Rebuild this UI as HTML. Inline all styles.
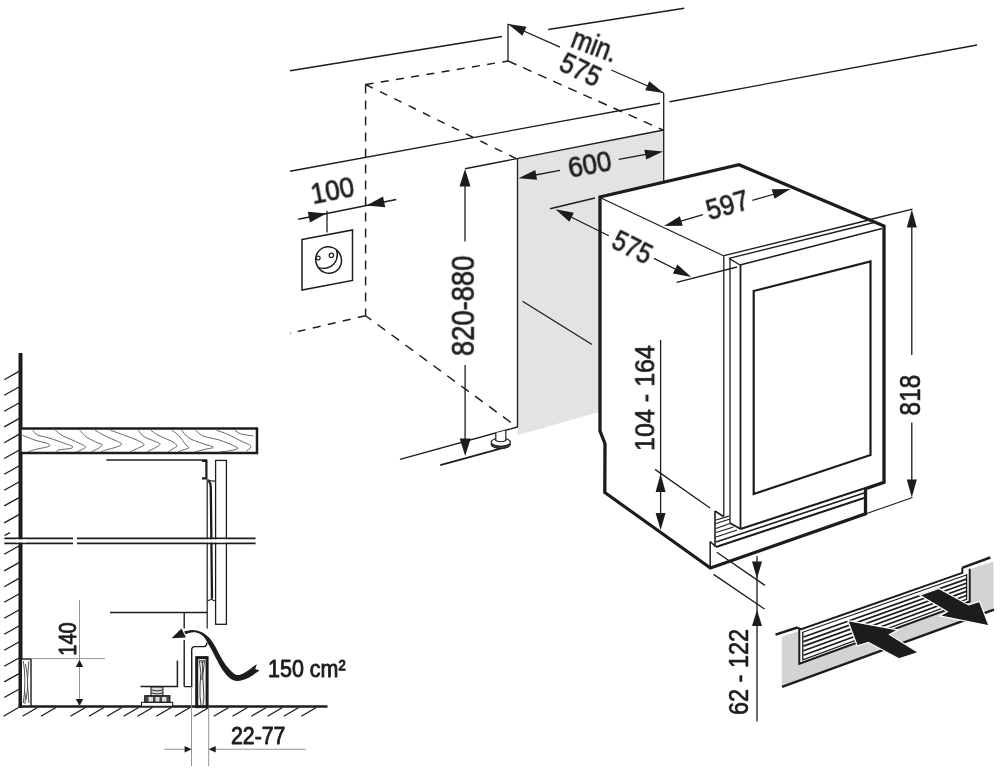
<!DOCTYPE html>
<html lang="en"><head><meta charset="utf-8"><title>Installation dimensions</title>
<style>
html,body{margin:0;padding:0;background:#fff}
body{width:1000px;height:780px;overflow:hidden}
svg{display:block;font-family:"Liberation Sans",sans-serif}
svg text{will-change:opacity;opacity:.999}
</style></head><body>
<svg width="1000" height="780" viewBox="0 0 1000 780">
<rect width="1000" height="780" fill="#fff"/>
<polygon points="517.5,158.5 663.7,130 663.7,181 600,197 600,411.8 517.5,435.3" fill="#e3e3e3" stroke="none" stroke-width="0" stroke-linejoin="miter"/>
<line x1="290" y1="70.75" x2="502" y2="36.5" stroke="#1c1c1c" stroke-width="1.3" stroke-linecap="butt"/>
<line x1="548.25" y1="29.5" x2="684.25" y2="8.25" stroke="#1c1c1c" stroke-width="1.3" stroke-linecap="butt"/>
<line x1="290" y1="171.25" x2="660" y2="103.25" stroke="#1c1c1c" stroke-width="1.3" stroke-linecap="butt"/>
<line x1="669.5" y1="101.75" x2="977" y2="45" stroke="#1c1c1c" stroke-width="1.3" stroke-linecap="butt"/>
<line x1="508" y1="24" x2="508" y2="61" stroke="#1c1c1c" stroke-width="1.3" stroke-linecap="butt"/>
<line x1="663.7" y1="93" x2="663.7" y2="181" stroke="#1c1c1c" stroke-width="1.3" stroke-linecap="butt"/>
<line x1="365.6" y1="84.5" x2="508" y2="61" stroke="#1c1c1c" stroke-width="1.45" stroke-linecap="butt" stroke-dasharray="8 7.4"/>
<line x1="365.6" y1="84.5" x2="517" y2="159" stroke="#1c1c1c" stroke-width="1.45" stroke-linecap="butt" stroke-dasharray="8 8"/>
<line x1="365.6" y1="84.5" x2="365.6" y2="315.75" stroke="#1c1c1c" stroke-width="1.45" stroke-linecap="butt" stroke-dasharray="9 7"/>
<line x1="508" y1="61" x2="663" y2="130" stroke="#1c1c1c" stroke-width="1.45" stroke-linecap="butt" stroke-dasharray="9.2 7.3"/>
<line x1="365.6" y1="315.75" x2="290" y2="333.25" stroke="#1c1c1c" stroke-width="1.45" stroke-linecap="butt" stroke-dasharray="8 7.4"/>
<line x1="365.6" y1="315.75" x2="516.5" y2="426.6" stroke="#1c1c1c" stroke-width="1.45" stroke-dasharray="9.5 7.8" stroke-dashoffset="2.5"/>
<line x1="465" y1="168.75" x2="663.7" y2="130" stroke="#1c1c1c" stroke-width="1.3" stroke-linecap="butt"/>
<line x1="517.5" y1="158.5" x2="517.5" y2="427.5" stroke="#1c1c1c" stroke-width="1.3" stroke-linecap="butt"/>
<line x1="400" y1="459.4" x2="517.3" y2="427" stroke="#1c1c1c" stroke-width="1.3" stroke-linecap="butt"/>
<line x1="440.3" y1="465.1" x2="505.9" y2="447.2" stroke="#1c1c1c" stroke-width="1.8" stroke-linecap="butt"/>
<line x1="522.5" y1="301.25" x2="592" y2="344.5" stroke="#1c1c1c" stroke-width="1.3" stroke-linecap="butt"/>
<ellipse cx="500.8" cy="444.3" rx="9.6" ry="4.1" fill="#555" stroke="#1c1c1c" stroke-width="1.2"/>
<ellipse cx="500.8" cy="442.2" rx="9.6" ry="4.1" fill="#fff" stroke="#1c1c1c" stroke-width="1.2"/>
<path d="M 495.8,433 L 495.8,440.5 Q 500.8,443 505.8,440.5 L 505.8,430.5" fill="#fff" stroke="#1c1c1c" stroke-width="1.2"/>
<line x1="465" y1="180" x2="465" y2="241.5" stroke="#1c1c1c" stroke-width="1.3" stroke-linecap="butt"/>
<line x1="465.1" y1="365" x2="465.1" y2="445" stroke="#1c1c1c" stroke-width="1.3" stroke-linecap="butt"/>
<polygon points="465.00,169.00 470.50,186.50 459.50,186.50" fill="#1c1c1c"/>
<polygon points="465.20,456.00 459.70,438.50 470.70,438.50" fill="#1c1c1c"/>
<text x="0" y="0" transform="translate(473.8,305.8) rotate(-90)" font-size="30.6" font-weight="400" text-anchor="middle" fill="#1c1c1c" stroke="#1c1c1c" stroke-width="0.7" stroke-linejoin="round" textLength="100.5" lengthAdjust="spacingAndGlyphs">820-880</text>
<line x1="298.25" y1="219.25" x2="396.25" y2="199.5" stroke="#1c1c1c" stroke-width="1.3" stroke-linecap="butt"/>
<polygon points="326.50,213.60 309.93,222.52 307.77,211.74" fill="#1c1c1c"/>
<polygon points="366.50,205.50 383.07,196.58 385.23,207.36" fill="#1c1c1c"/>
<line x1="327" y1="211" x2="327" y2="232.5" stroke="#1c1c1c" stroke-width="1.3" stroke-linecap="butt"/>
<text x="0" y="0" transform="translate(334.3,200) rotate(-11)" font-size="29" font-weight="400" text-anchor="middle" fill="#1c1c1c" stroke="#1c1c1c" stroke-width="0.7" stroke-linejoin="round" textLength="43.5" lengthAdjust="spacingAndGlyphs">100</text>
<polygon points="302,239.5 352.5,230 352.5,280.5 302,290" fill="none" stroke="#1c1c1c" stroke-width="1.5" stroke-linejoin="miter"/>
<ellipse cx="328.6" cy="260" rx="12.8" ry="13.4" fill="none" stroke="#1c1c1c" stroke-width="1.5" transform="rotate(-25 328.6 260)"/>
<path d="M 336.2,249.3 C 339,256 336.5,263.5 330,266.8 C 325.5,269 321.5,268.5 318.6,267.6" fill="none" stroke="#1c1c1c" stroke-width="1.4"/>
<circle cx="318.2" cy="258" r="1.9" fill="#fff" stroke="#1c1c1c" stroke-width="1.2"/>
<circle cx="331.4" cy="255.3" r="2.2" fill="#fff" stroke="#1c1c1c" stroke-width="1.2"/>
<line x1="508" y1="24" x2="560" y2="47.2" stroke="#1c1c1c" stroke-width="1.3" stroke-linecap="butt"/>
<line x1="611.25" y1="70" x2="663.7" y2="93" stroke="#1c1c1c" stroke-width="1.3" stroke-linecap="butt"/>
<polygon points="508.00,24.00 526.48,26.72 522.43,35.86" fill="#1c1c1c"/>
<polygon points="663.70,93.00 645.22,90.28 649.27,81.14" fill="#1c1c1c"/>
<text x="0" y="0" transform="translate(591.2,54.6) rotate(20.5)" font-size="29" font-weight="400" text-anchor="middle" fill="#1c1c1c" stroke="#1c1c1c" stroke-width="0.7" stroke-linejoin="round" textLength="47" lengthAdjust="spacingAndGlyphs">min.</text>
<text x="0" y="0" transform="translate(576.4,78.6) rotate(25.5)" font-size="30" font-weight="400" text-anchor="middle" fill="#1c1c1c" stroke="#1c1c1c" stroke-width="0.7" stroke-linejoin="round" textLength="42" lengthAdjust="spacingAndGlyphs">575</text>
<line x1="530" y1="176" x2="560" y2="170.4" stroke="#1c1c1c" stroke-width="1.3" stroke-linecap="butt"/>
<line x1="618.75" y1="159.4" x2="650" y2="153.6" stroke="#1c1c1c" stroke-width="1.3" stroke-linecap="butt"/>
<polygon points="518.50,178.20 535.29,170.01 537.11,179.84" fill="#1c1c1c"/>
<polygon points="663.00,151.40 646.21,159.59 644.39,149.76" fill="#1c1c1c"/>
<text x="0" y="0" transform="translate(591.5,174) rotate(-10.5)" font-size="29" font-weight="400" text-anchor="middle" fill="#1c1c1c" stroke="#1c1c1c" stroke-width="0.7" stroke-linejoin="round" textLength="43.5" lengthAdjust="spacingAndGlyphs">600</text>
<polyline points="600,432 600,197 739,164.7 884,226 884,482.3 865.5,488.75 865.5,513.75 710.4,568 604.8,492.5 605,443.75 600,431" fill="none" stroke="#1c1c1c" stroke-width="3.3" stroke-linejoin="miter"/>
<line x1="601" y1="198" x2="724" y2="256" stroke="#1c1c1c" stroke-width="1.3" stroke-linecap="butt"/>
<line x1="724" y1="255.6" x2="869" y2="220" stroke="#1c1c1c" stroke-width="1.3" stroke-linecap="butt"/>
<line x1="729" y1="258.4" x2="874" y2="222.5" stroke="#1c1c1c" stroke-width="1.3" stroke-linecap="butt"/>
<line x1="740" y1="265" x2="882" y2="228.5" stroke="#1c1c1c" stroke-width="1.3" stroke-linecap="butt"/>
<line x1="729" y1="258.4" x2="740" y2="265" stroke="#1c1c1c" stroke-width="1.3" stroke-linecap="butt"/>
<line x1="723.8" y1="256" x2="723.8" y2="516.5" stroke="#1c1c1c" stroke-width="1.3" stroke-linecap="butt"/>
<line x1="730" y1="258.4" x2="730" y2="523" stroke="#1c1c1c" stroke-width="1.3" stroke-linecap="butt"/>
<line x1="740.5" y1="265" x2="740.5" y2="529" stroke="#1c1c1c" stroke-width="1.8" stroke-linecap="butt"/>
<polygon points="753.7,291 870.5,261.5 870.5,455 753.7,494" fill="none" stroke="#1c1c1c" stroke-width="2.2" stroke-linejoin="miter"/>
<line x1="740.5" y1="529" x2="864" y2="488.5" stroke="#1c1c1c" stroke-width="2.0" stroke-linecap="butt"/>
<line x1="730" y1="523" x2="740.5" y2="529" stroke="#1c1c1c" stroke-width="2.0" stroke-linecap="butt"/>
<line x1="716" y1="542" x2="864" y2="493" stroke="#1c1c1c" stroke-width="1.4" stroke-linecap="butt"/>
<line x1="716" y1="547" x2="864" y2="498" stroke="#1c1c1c" stroke-width="1.9" stroke-linecap="butt"/>
<line x1="710.2" y1="541.5" x2="710.2" y2="568" stroke="#1c1c1c" stroke-width="1.5" stroke-linecap="butt"/>
<line x1="710.2" y1="541.5" x2="715" y2="546" stroke="#1c1c1c" stroke-width="1.5" stroke-linecap="butt"/>
<line x1="715" y1="511" x2="715" y2="547" stroke="#1c1c1c" stroke-width="1.6" stroke-linecap="butt"/>
<line x1="715" y1="511" x2="723.5" y2="516.5" stroke="#1c1c1c" stroke-width="1.5" stroke-linecap="butt"/>
<line x1="716" y1="520" x2="729" y2="516.2" stroke="#1c1c1c" stroke-width="1.2" stroke-linecap="butt"/>
<line x1="716" y1="523.5" x2="730" y2="519" stroke="#1c1c1c" stroke-width="1.2" stroke-linecap="butt"/>
<line x1="716" y1="528.5" x2="730" y2="523.5" stroke="#1c1c1c" stroke-width="1.2" stroke-linecap="butt"/>
<line x1="716" y1="532.5" x2="733.5" y2="527" stroke="#1c1c1c" stroke-width="1.2" stroke-linecap="butt"/>
<line x1="716" y1="537" x2="737" y2="530" stroke="#1c1c1c" stroke-width="1.2" stroke-linecap="butt"/>
<line x1="675" y1="222.8" x2="703" y2="214.6" stroke="#1c1c1c" stroke-width="1.3" stroke-linecap="butt"/>
<line x1="752.4" y1="200.4" x2="778" y2="193" stroke="#1c1c1c" stroke-width="1.3" stroke-linecap="butt"/>
<polygon points="664.00,226.00 679.87,216.14 682.68,225.74" fill="#1c1c1c"/>
<polygon points="790.40,189.00 774.53,198.86 771.72,189.26" fill="#1c1c1c"/>
<text x="0" y="0" transform="translate(730,214.5) rotate(-16)" font-size="29" font-weight="400" text-anchor="middle" fill="#1c1c1c" stroke="#1c1c1c" stroke-width="0.7" stroke-linejoin="round" textLength="43" lengthAdjust="spacingAndGlyphs">597</text>
<line x1="550" y1="208.75" x2="595" y2="198" stroke="#1c1c1c" stroke-width="1.3" stroke-linecap="butt"/>
<line x1="565" y1="214" x2="608.75" y2="235.75" stroke="#1c1c1c" stroke-width="1.3" stroke-linecap="butt"/>
<line x1="654" y1="258.4" x2="681" y2="272" stroke="#1c1c1c" stroke-width="1.3" stroke-linecap="butt"/>
<polygon points="555.50,209.25 573.84,212.81 569.37,221.76" fill="#1c1c1c"/>
<polygon points="691.25,277.00 672.91,273.44 677.38,264.49" fill="#1c1c1c"/>
<text x="0" y="0" transform="translate(628,256) rotate(26.5)" font-size="29" font-weight="400" text-anchor="middle" fill="#1c1c1c" stroke="#1c1c1c" stroke-width="0.7" stroke-linejoin="round" textLength="40.5" lengthAdjust="spacingAndGlyphs">575</text>
<line x1="676.6" y1="282.4" x2="737" y2="267" stroke="#1c1c1c" stroke-width="1.3" stroke-linecap="butt"/>
<line x1="870" y1="219.5" x2="912.5" y2="209.2" stroke="#1c1c1c" stroke-width="1.3" stroke-linecap="butt"/>
<line x1="866" y1="513.75" x2="912.5" y2="497.5" stroke="#1c1c1c" stroke-width="1.3" stroke-linecap="butt"/>
<line x1="911.8" y1="220" x2="911.8" y2="355" stroke="#1c1c1c" stroke-width="1.3" stroke-linecap="butt"/>
<line x1="911.8" y1="422.5" x2="911.8" y2="487" stroke="#1c1c1c" stroke-width="1.3" stroke-linecap="butt"/>
<polygon points="911.80,209.50 916.80,227.50 906.80,227.50" fill="#1c1c1c"/>
<polygon points="911.80,497.50 906.80,479.50 916.80,479.50" fill="#1c1c1c"/>
<text x="0" y="0" transform="translate(920,395.1) rotate(-90)" font-size="30.2" font-weight="400" text-anchor="middle" fill="#1c1c1c" stroke="#1c1c1c" stroke-width="0.7" stroke-linejoin="round" textLength="40.8" lengthAdjust="spacingAndGlyphs">818</text>
<line x1="660.6" y1="340" x2="660.6" y2="520" stroke="#1c1c1c" stroke-width="1.3" stroke-linecap="butt"/>
<polygon points="660.60,474.00 665.60,492.00 655.60,492.00" fill="#1c1c1c"/>
<polygon points="660.60,530.00 655.60,513.00 665.60,513.00" fill="#1c1c1c"/>
<line x1="655" y1="469.4" x2="710" y2="508" stroke="#1c1c1c" stroke-width="1.3" stroke-linecap="butt"/>
<text x="0" y="0" transform="translate(654.2,398) rotate(-90)" font-size="27.5" font-weight="400" text-anchor="middle" fill="#1c1c1c" stroke="#1c1c1c" stroke-width="0.7" stroke-linejoin="round" textLength="106" lengthAdjust="spacingAndGlyphs">104 - 164</text>
<line x1="716.8" y1="552.2" x2="765" y2="585.4" stroke="#1c1c1c" stroke-width="1.3" stroke-linecap="butt"/>
<line x1="713.6" y1="574.4" x2="764.5" y2="609" stroke="#1c1c1c" stroke-width="1.3" stroke-linecap="butt"/>
<line x1="757" y1="556" x2="757" y2="721.6" stroke="#1c1c1c" stroke-width="1.3" stroke-linecap="butt"/>
<polygon points="757.00,578.50 752.00,561.50 762.00,561.50" fill="#1c1c1c"/>
<polygon points="757.00,610.00 762.00,626.00 752.00,626.00" fill="#1c1c1c"/>
<text x="0" y="0" transform="translate(748,672) rotate(-90)" font-size="27" font-weight="400" text-anchor="middle" fill="#1c1c1c" stroke="#1c1c1c" stroke-width="0.7" stroke-linejoin="round" textLength="86" lengthAdjust="spacingAndGlyphs">62 - 122</text>
<polygon points="781.7,636.8 799.3,631 799.3,663.7 969.7,601.5 969.7,569.3 993.5,561.5 993.5,609.5 781.7,686.6" fill="#d3d3d3" stroke="none" stroke-width="0" stroke-linejoin="miter"/>
<line x1="775.5" y1="634.6" x2="797.5" y2="627.5" stroke="#1c1c1c" stroke-width="2.4" stroke-linecap="butt"/>
<line x1="962" y1="567.8" x2="990.3" y2="557.5" stroke="#1c1c1c" stroke-width="2.4" stroke-linecap="butt"/>
<line x1="782" y1="686.8" x2="994" y2="609.6" stroke="#1c1c1c" stroke-width="2.4" stroke-linecap="butt"/>
<line x1="803.5" y1="637.05" x2="967" y2="578.88" stroke="#1c1c1c" stroke-width="1.7" stroke-linecap="butt"/>
<line x1="803.5" y1="641.6" x2="967" y2="582.9599999999999" stroke="#1c1c1c" stroke-width="1.7" stroke-linecap="butt"/>
<line x1="803.5" y1="646.15" x2="967" y2="587.04" stroke="#1c1c1c" stroke-width="1.7" stroke-linecap="butt"/>
<line x1="803.5" y1="650.7" x2="967" y2="591.12" stroke="#1c1c1c" stroke-width="1.7" stroke-linecap="butt"/>
<line x1="803.5" y1="655.25" x2="967" y2="595.1999999999999" stroke="#1c1c1c" stroke-width="1.7" stroke-linecap="butt"/>
<polyline points="797,627.8 801.2,629.3 962.3,572.9 962.3,568" fill="none" stroke="#1c1c1c" stroke-width="2.0" stroke-linejoin="miter"/>
<line x1="802" y1="632.6" x2="967" y2="574.8" stroke="#1c1c1c" stroke-width="1.1" stroke-linecap="butt"/>
<polyline points="799.3,629 799.3,663.7 969.7,601.5 969.7,568.8" fill="none" stroke="#1c1c1c" stroke-width="2.0" stroke-linejoin="miter"/>
<polyline points="802.8,632 802.8,659.8 966.6,599.3 966.6,574" fill="none" stroke="#1c1c1c" stroke-width="1.3" stroke-linejoin="miter"/>
<polygon points="847.9,620.7 898,629.8 889.5,634.6 918.4,652.5 898.9,658.7 868.3,642.3 857.2,645.7" fill="#1c1c1c" stroke="#fff" stroke-width="1.2"/>
<polygon points="989,625.8 979.6,601.5 968.6,604.9 938.8,588.4 919.8,595.2 947.3,611.7 939.7,615.9" fill="#1c1c1c" stroke="#fff" stroke-width="1.2"/>
<line x1="4.2" y1="379.7" x2="19" y2="371.4" stroke="#1c1c1c" stroke-width="1.3" stroke-linecap="butt"/>
<line x1="4.2" y1="395.3" x2="19" y2="387" stroke="#1c1c1c" stroke-width="1.3" stroke-linecap="butt"/>
<line x1="4.2" y1="411.3" x2="19" y2="403" stroke="#1c1c1c" stroke-width="1.3" stroke-linecap="butt"/>
<line x1="4.2" y1="426.90000000000003" x2="19" y2="418.6" stroke="#1c1c1c" stroke-width="1.3" stroke-linecap="butt"/>
<line x1="4.2" y1="442.7" x2="19" y2="434.4" stroke="#1c1c1c" stroke-width="1.3" stroke-linecap="butt"/>
<line x1="4.2" y1="458.5" x2="19" y2="450.2" stroke="#1c1c1c" stroke-width="1.3" stroke-linecap="butt"/>
<line x1="4.2" y1="474.3" x2="19" y2="466" stroke="#1c1c1c" stroke-width="1.3" stroke-linecap="butt"/>
<line x1="4.2" y1="490.3" x2="19" y2="482" stroke="#1c1c1c" stroke-width="1.3" stroke-linecap="butt"/>
<line x1="4.2" y1="505.90000000000003" x2="19" y2="497.6" stroke="#1c1c1c" stroke-width="1.3" stroke-linecap="butt"/>
<line x1="4.2" y1="522.9" x2="19" y2="514.6" stroke="#1c1c1c" stroke-width="1.3" stroke-linecap="butt"/>
<line x1="4.2" y1="554.3" x2="19" y2="546" stroke="#1c1c1c" stroke-width="1.3" stroke-linecap="butt"/>
<line x1="4.2" y1="570.9" x2="19" y2="562.6" stroke="#1c1c1c" stroke-width="1.3" stroke-linecap="butt"/>
<line x1="4.2" y1="586.6999999999999" x2="19" y2="578.4" stroke="#1c1c1c" stroke-width="1.3" stroke-linecap="butt"/>
<line x1="4.2" y1="602.3" x2="19" y2="594" stroke="#1c1c1c" stroke-width="1.3" stroke-linecap="butt"/>
<line x1="4.2" y1="618.3" x2="19" y2="610" stroke="#1c1c1c" stroke-width="1.3" stroke-linecap="butt"/>
<line x1="4.2" y1="634.3" x2="19" y2="626" stroke="#1c1c1c" stroke-width="1.3" stroke-linecap="butt"/>
<line x1="4.2" y1="650.3" x2="19" y2="642" stroke="#1c1c1c" stroke-width="1.3" stroke-linecap="butt"/>
<line x1="4.2" y1="666.3" x2="19" y2="658" stroke="#1c1c1c" stroke-width="1.3" stroke-linecap="butt"/>
<line x1="4.2" y1="681.9" x2="19" y2="673.6" stroke="#1c1c1c" stroke-width="1.3" stroke-linecap="butt"/>
<line x1="4.2" y1="697.5" x2="19" y2="689.2" stroke="#1c1c1c" stroke-width="1.3" stroke-linecap="butt"/>
<line x1="4.4" y1="535.5" x2="10" y2="532.6" stroke="#1c1c1c" stroke-width="1.3" stroke-linecap="butt"/>
<line x1="20.5" y1="353" x2="20.5" y2="707.5" stroke="#1c1c1c" stroke-width="4" stroke-linecap="butt"/>
<rect x="20.5" y="428.5" width="236.5" height="24.5" fill="#fff" stroke="#1c1c1c" stroke-width="2.5"/>
<path d="M 22.40,435.20 C 24.50,436.02 30.80,438.70 35.00,440.10 C 39.20,441.50 45.15,442.67 47.60,443.60 C 50.05,444.53 49.93,445.12 49.70,445.70 C 49.47,446.28 48.88,446.40 46.20,447.10 C 43.52,447.80 36.63,449.08 33.60,449.90 C 30.57,450.72 28.93,451.65 28.00,452.00" fill="none" stroke="#555" stroke-width="0.9" />
<path d="M 32.90,430.30 C 33.72,431.12 35.12,433.92 37.80,435.20 C 40.48,436.48 44.10,436.48 49.00,438.00 C 53.90,439.52 63.23,442.85 67.20,444.30 C 71.17,445.75 72.33,445.98 72.80,446.68 C 73.27,447.38 72.33,447.96 70.00,448.50 C 67.67,449.04 61.13,449.32 58.80,449.90 C 56.47,450.48 56.47,451.65 56.00,452.00" fill="none" stroke="#555" stroke-width="0.9" />
<path d="M 55.30,430.30 C 56.58,431.23 59.62,434.03 63.00,435.90 C 66.38,437.77 71.87,439.70 75.60,441.50 C 79.33,443.30 84.23,445.40 85.40,446.68 C 86.57,447.96 84.12,448.31 82.60,449.20 C 81.08,450.09 77.35,451.53 76.30,452.00" fill="none" stroke="#555" stroke-width="0.9" />
<path d="M 79.80,430.30 C 80.97,431.47 83.77,435.20 86.80,437.30 C 89.83,439.40 95.43,441.62 98.00,442.90 C 100.57,444.18 102.20,444.07 102.20,445.00 C 102.20,445.93 99.87,447.33 98.00,448.50 C 96.13,449.67 92.17,451.42 91.00,452.00" fill="none" stroke="#555" stroke-width="0.9" />
<path d="M 95.20,430.30 C 96.83,431.23 101.27,434.03 105.00,435.90 C 108.73,437.77 114.80,440.10 117.60,441.50 C 120.40,442.90 122.03,443.37 121.80,444.30 C 121.57,445.23 118.77,446.17 116.20,447.10 C 113.63,448.03 108.97,449.08 106.40,449.90 C 103.83,450.72 101.73,451.65 100.80,452.00" fill="none" stroke="#555" stroke-width="0.9" />
<path d="M 110.60,430.30 C 112.23,430.88 116.90,432.52 120.40,433.80 C 123.90,435.08 128.33,436.72 131.60,438.00 C 134.87,439.28 137.90,440.33 140.00,441.50 C 142.10,442.67 144.43,443.95 144.20,445.00 C 143.97,446.05 140.93,446.63 138.60,447.80 C 136.27,448.97 131.60,451.30 130.20,452.00" fill="none" stroke="#555" stroke-width="0.9" />
<path d="M 138.40,430.30 C 139.33,431.35 141.20,434.73 144.00,436.60 C 146.80,438.47 152.52,440.22 155.20,441.50 C 157.88,442.78 160.33,443.13 160.10,444.30 C 159.87,445.47 156.02,447.22 153.80,448.50 C 151.58,449.78 147.97,451.42 146.80,452.00" fill="none" stroke="#555" stroke-width="0.9" />
<path d="M 151.00,430.30 C 152.17,431.12 154.50,433.33 158.00,435.20 C 161.50,437.07 168.85,439.75 172.00,441.50 C 175.15,443.25 176.67,444.53 176.90,445.70 C 177.13,446.87 174.92,447.45 173.40,448.50 C 171.88,449.55 168.73,451.42 167.80,452.00" fill="none" stroke="#555" stroke-width="0.9" />
<path d="M 172.00,430.30 C 173.17,431.23 176.67,433.45 179.00,435.90 C 181.33,438.35 184.37,443.02 186.00,445.00 C 187.63,446.98 189.27,446.98 188.80,447.80 C 188.33,448.62 185.07,449.20 183.20,449.90 C 181.33,450.60 178.53,451.65 177.60,452.00" fill="none" stroke="#555" stroke-width="0.9" />
<path d="M 181.80,430.30 C 182.97,431.58 185.30,435.78 188.80,438.00 C 192.30,440.22 198.72,442.08 202.80,443.60 C 206.88,445.12 212.83,446.17 213.30,447.10 C 213.77,448.03 208.75,448.38 205.60,449.20 C 202.45,450.02 196.27,451.53 194.40,452.00" fill="none" stroke="#555" stroke-width="0.9" />
<path d="M 195.80,430.30 C 196.97,431.23 198.83,434.27 202.80,435.90 C 206.77,437.53 214.47,438.47 219.60,440.10 C 224.73,441.73 230.57,444.30 233.60,445.70 C 236.63,447.10 238.27,447.68 237.80,448.50 C 237.33,449.32 233.83,450.02 230.80,450.60 C 227.77,451.18 221.47,451.77 219.60,452.00" fill="none" stroke="#555" stroke-width="0.9" />
<path d="M 216.80,430.30 C 218.67,431.00 223.80,432.63 228.00,434.50 C 232.20,436.37 238.38,439.75 242.00,441.50 C 245.62,443.25 248.30,443.95 249.70,445.00 C 251.10,446.05 250.98,446.75 250.40,447.80 C 249.82,448.85 246.90,450.72 246.20,451.30" fill="none" stroke="#555" stroke-width="0.9" />
<path d="M 235.00,430.30 C 235.93,430.88 237.57,432.87 240.60,433.80 C 243.63,434.73 251.10,435.55 253.20,435.90" fill="none" stroke="#555" stroke-width="0.9" />
<line x1="106.4" y1="460" x2="207.2" y2="460" stroke="#1c1c1c" stroke-width="1.5" stroke-linecap="butt"/>
<path d="M 202,461 L 206.4,461 L 206.4,478.3 L 202,478.3" fill="none" stroke="#1c1c1c" stroke-width="2.2" />
<rect x="215.6" y="460.4" width="10.8" height="163.9" fill="#fff" stroke="#1c1c1c" stroke-width="1.3"/>
<line x1="207.2" y1="480" x2="207.2" y2="628.6" stroke="#1c1c1c" stroke-width="1.2" stroke-linecap="butt"/>
<path d="M 207.4,479.5 Q 211,481.5 215.4,481" fill="none" stroke="#1c1c1c" stroke-width="1.1" />
<path d="M 208.5,480.5 Q 210.8,483 210.8,487 L 212,598.7" fill="none" stroke="#1c1c1c" stroke-width="2.3" />
<path d="M 207.3,601 L 211.3,599.3 L 215,601" fill="none" stroke="#1c1c1c" stroke-width="1.1" />
<line x1="4.4" y1="538.4" x2="73" y2="538.4" stroke="#1c1c1c" stroke-width="1.7" stroke-linecap="butt"/>
<line x1="4.4" y1="543.4" x2="73" y2="543.4" stroke="#1c1c1c" stroke-width="1.7" stroke-linecap="butt"/>
<line x1="77" y1="538.4" x2="255.6" y2="538.4" stroke="#1c1c1c" stroke-width="1.7" stroke-linecap="butt"/>
<line x1="77" y1="543.4" x2="255.6" y2="543.4" stroke="#1c1c1c" stroke-width="1.7" stroke-linecap="butt"/>
<rect x="16" y="539.4" width="10" height="3" fill="#fff"/>
<rect x="205" y="539.4" width="23" height="3" fill="#fff"/>
<line x1="18.5" y1="706.5" x2="327.5" y2="706.5" stroke="#1c1c1c" stroke-width="2.6" stroke-linecap="butt"/>
<line x1="3.5" y1="716.3" x2="18.5" y2="707.5" stroke="#1c1c1c" stroke-width="1.3" stroke-linecap="butt"/>
<line x1="22.5" y1="716.3" x2="37.5" y2="707.5" stroke="#1c1c1c" stroke-width="1.3" stroke-linecap="butt"/>
<line x1="41" y1="716.3" x2="56" y2="707.5" stroke="#1c1c1c" stroke-width="1.3" stroke-linecap="butt"/>
<line x1="70.4" y1="716.3" x2="85.4" y2="707.5" stroke="#1c1c1c" stroke-width="1.3" stroke-linecap="butt"/>
<line x1="89" y1="716.3" x2="104" y2="707.5" stroke="#1c1c1c" stroke-width="1.3" stroke-linecap="butt"/>
<line x1="107" y1="716.3" x2="122" y2="707.5" stroke="#1c1c1c" stroke-width="1.3" stroke-linecap="butt"/>
<line x1="123.6" y1="716.3" x2="138.6" y2="707.5" stroke="#1c1c1c" stroke-width="1.3" stroke-linecap="butt"/>
<line x1="137.5" y1="716.3" x2="152.5" y2="707.5" stroke="#1c1c1c" stroke-width="1.3" stroke-linecap="butt"/>
<line x1="156.3" y1="716.3" x2="171.3" y2="707.5" stroke="#1c1c1c" stroke-width="1.3" stroke-linecap="butt"/>
<line x1="175" y1="716.3" x2="190" y2="707.5" stroke="#1c1c1c" stroke-width="1.3" stroke-linecap="butt"/>
<line x1="193.9" y1="716.3" x2="208.9" y2="707.5" stroke="#1c1c1c" stroke-width="1.3" stroke-linecap="butt"/>
<line x1="213.7" y1="716.3" x2="228.7" y2="707.5" stroke="#1c1c1c" stroke-width="1.3" stroke-linecap="butt"/>
<line x1="232.5" y1="716.3" x2="247.5" y2="707.5" stroke="#1c1c1c" stroke-width="1.3" stroke-linecap="butt"/>
<line x1="251.3" y1="716.3" x2="266.3" y2="707.5" stroke="#1c1c1c" stroke-width="1.3" stroke-linecap="butt"/>
<line x1="267.5" y1="716.3" x2="282.5" y2="707.5" stroke="#1c1c1c" stroke-width="1.3" stroke-linecap="butt"/>
<line x1="283.8" y1="716.3" x2="298.8" y2="707.5" stroke="#1c1c1c" stroke-width="1.3" stroke-linecap="butt"/>
<line x1="301.3" y1="716.3" x2="316.3" y2="707.5" stroke="#1c1c1c" stroke-width="1.3" stroke-linecap="butt"/>
<rect x="21.3" y="659" width="9.7" height="47" fill="#fff" stroke="#1c1c1c" stroke-width="1.4"/>
<path d="M 23.3,661 Q 26.5,680 23.3,703 M 28.8,661 Q 26,682 28.8,703 M 25.5,664 Q 29.5,682 26,700 M 24.5,690 Q 26,697 25,704" fill="none" stroke="#555" stroke-width="1.0" />
<line x1="32.2" y1="658.6" x2="105" y2="658.6" stroke="#8a8a8a" stroke-width="0.9" stroke-linecap="butt"/>
<line x1="79.5" y1="600" x2="79.5" y2="706" stroke="#8a8a8a" stroke-width="0.9" stroke-linecap="butt"/>
<polygon points="79.50,660.00 83.25,667.00 75.75,667.00" fill="#1c1c1c"/>
<polygon points="79.50,706.00 75.75,699.00 83.25,699.00" fill="#1c1c1c"/>
<text x="0" y="0" transform="translate(76,639) rotate(-90)" font-size="24.3" font-weight="400" text-anchor="middle" fill="#1c1c1c" stroke="#1c1c1c" stroke-width="0.9" stroke-linejoin="round" textLength="33.5" lengthAdjust="spacingAndGlyphs">140</text>
<line x1="110" y1="612.5" x2="207.2" y2="612.5" stroke="#1c1c1c" stroke-width="1.5" stroke-linecap="butt"/>
<line x1="184.2" y1="612.5" x2="184.2" y2="628.6" stroke="#1c1c1c" stroke-width="1.4" stroke-linecap="butt"/>
<line x1="184.2" y1="640" x2="184.2" y2="686.6" stroke="#1c1c1c" stroke-width="1.4" stroke-linecap="butt"/>
<path d="M 184.2,686.6 L 191.7,686.6 L 191.7,650 Q 191.7,646.6 195,646.6 L 204,646.6 Q 206.8,646.6 206.8,642.6" fill="none" stroke="#1c1c1c" stroke-width="1.4" />
<path d="M 177.4,660.8 L 177.4,686.6 L 140.5,686.6" fill="none" stroke="#1c1c1c" stroke-width="1.5" />
<rect x="141.5" y="702.3" width="31.2" height="4" fill="#fff" stroke="#1c1c1c" stroke-width="1.1"/>
<rect x="144.7" y="695.7" width="25.2" height="6.6" fill="#444" stroke="#1c1c1c" stroke-width="1.1"/>
<rect x="148.5" y="697" width="4.5" height="4.5" fill="#ddd"/><rect x="155.5" y="697" width="4" height="4.5" fill="#ddd"/><rect x="162" y="697" width="4.5" height="4.5" fill="#ddd"/>
<rect x="151" y="687" width="11.9" height="8.7" fill="#ddd" stroke="#1c1c1c" stroke-width="1.1"/>
<path d="M 151.5,690 Q 157,692 162.5,690 M 151.5,693 Q 157,695 162.5,693" fill="none" stroke="#1c1c1c" stroke-width="0.9" />
<line x1="191.5" y1="686.6" x2="191.5" y2="766" stroke="#8a8a8a" stroke-width="0.9" stroke-linecap="butt"/>
<line x1="208.7" y1="706" x2="208.7" y2="766" stroke="#8a8a8a" stroke-width="0.9" stroke-linecap="butt"/>
<rect x="196.7" y="657.6" width="10.4" height="49" fill="#f4f4f4" stroke="#1c1c1c" stroke-width="3"/>
<path d="M 199.3,660 Q 202,672 200,686 Q 199.5,697 201,705 M 204.7,660 Q 201.5,675 203.5,690 Q 204.5,698 203,705 M 202,660 Q 203.5,668 201.8,680 M 200.5,660 Q 202.5,666 203.5,660" fill="none" stroke="#444" stroke-width="1.0" />
<line x1="164.25" y1="749.25" x2="186" y2="749.25" stroke="#8a8a8a" stroke-width="0.9" stroke-linecap="butt"/>
<line x1="214" y1="749.25" x2="305.75" y2="749.25" stroke="#8a8a8a" stroke-width="0.9" stroke-linecap="butt"/>
<polygon points="191.60,749.25 184.60,752.50 184.60,746.00" fill="#1c1c1c"/>
<polygon points="208.70,749.25 215.70,746.00 215.70,752.50" fill="#1c1c1c"/>
<text x="0" y="0" transform="translate(258.2,744.3) rotate(0)" font-size="24" font-weight="400" text-anchor="middle" fill="#1c1c1c" stroke="#1c1c1c" stroke-width="0.9" stroke-linejoin="round" textLength="54.5" lengthAdjust="spacingAndGlyphs">22-77</text>
<text x="0" y="0" transform="translate(306.8,676.8) rotate(0)" font-size="24" font-weight="400" text-anchor="middle" fill="#1c1c1c" stroke="#1c1c1c" stroke-width="0.9" stroke-linejoin="round" textLength="77.5" lengthAdjust="spacingAndGlyphs">150 cm²</text>
<path d="M 184.25,631.55 C 185.62,631.31 189.66,630.03 192.50,630.12 C 195.34,630.21 198.55,630.85 201.30,632.10 C 204.05,633.35 206.80,635.40 209.00,637.60 C 211.20,639.80 212.48,642.00 214.50,645.30 C 216.52,648.60 218.91,653.73 221.11,657.40 C 223.31,661.07 225.33,664.46 227.71,667.30 C 230.09,670.14 233.03,673.36 235.41,674.46 C 237.79,675.56 239.44,674.92 242.01,673.91 C 244.58,672.90 248.34,670.05 250.81,668.40 C 253.28,666.75 255.85,664.73 256.86,664.00 L 255.21,668.95 L 259.61,670.61 C 257.78,671.80 252.28,676.02 248.61,677.76 C 244.94,679.50 240.73,680.97 237.61,681.06 C 234.49,681.15 232.48,680.24 229.91,678.31 C 227.34,676.38 224.59,672.99 222.21,669.50 C 219.83,666.01 217.81,661.43 215.61,657.40 C 213.41,653.37 211.02,648.78 209.00,645.30 C 206.98,641.82 205.52,638.61 203.50,636.50 C 201.48,634.39 199.10,633.29 196.90,632.65 C 194.70,632.01 192.23,632.38 190.30,632.65 C 188.38,632.92 186.18,634.02 185.35,634.30 Z" fill="#1c1c1c"/>
<polygon points="171.6,638.2 181.5,628.6 185.9,637.6" fill="#1c1c1c"/>
</svg>
</body></html>
